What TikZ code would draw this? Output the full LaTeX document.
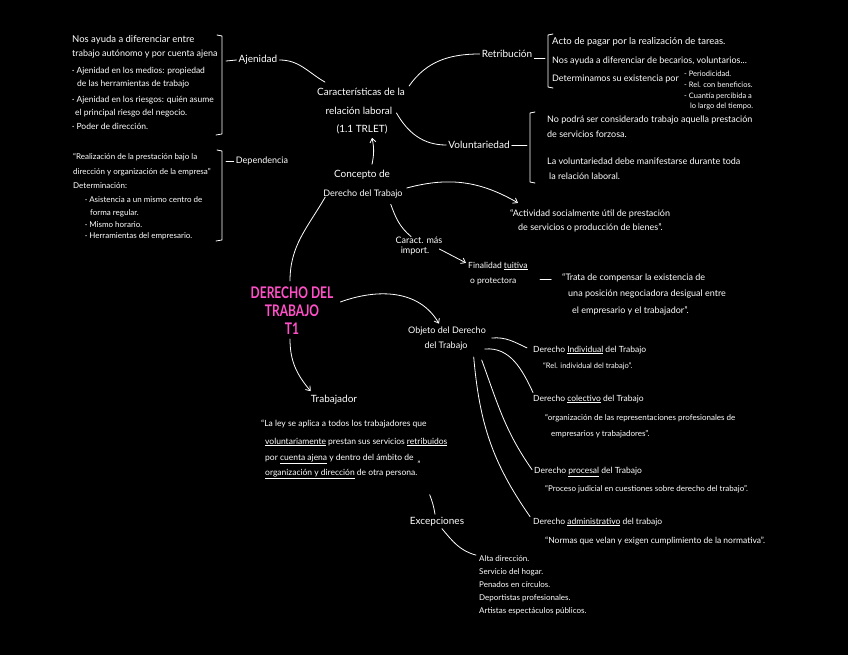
\documentclass[tikz,border=0pt]{standalone}
\usepackage{fontspec}
\setmainfont{Lato}
\usetikzlibrary{arrows.meta,calc}
\definecolor{pinkT}{RGB}{255,80,200}
\begin{document}
\begin{tikzpicture}[x=1pt,y=-1pt,
  t/.style={text=white,inner sep=0pt,anchor=base west},
  lb/.style={text=white,inner sep=2pt},
  fA/.style={font=\fontsize{10}{12}\selectfont},
  fB/.style={font=\fontsize{9.5}{11}\selectfont},
  fC/.style={font=\fontsize{9}{11}\selectfont},
  fD/.style={font=\fontsize{8.5}{10}\selectfont},
  fE/.style={font=\fontsize{8}{10}\selectfont},
  fF/.style={font=\fontsize{7.5}{9}\selectfont},
  con/.style={draw=white,line width=0.8pt,line cap=round},
  arr/.style={con,-{Straight Barb[length=4pt,width=6pt]}},
  brk/.style={draw=white,line width=0.8pt,line cap=round,line join=round}
]
\fill[black] (0,0) rectangle (848,655);
\useasboundingbox (0,0) rectangle (848,655);

% ---------- Ajenidad block ----------
\node[t,fB] (a1) at (72,43) {Nos ayuda a diferenciar entre};
\node[t,fC] (a2) at (72,57) {trabajo autónomo y por cuenta ajena};
\node[t,fD] (a3) at (72,74) {· Ajenidad en los medios: propiedad};
\node[t,fD] (a4) at (77,87) {de las herramientas de trabajo};
\node[t,fD] (a5) at (72,103) {· Ajenidad en los riesgos: quién asume};
\node[t,fD] (a6) at (75,116) {el principal riesgo del negocio.};
\node[t,fD] (a7) at (72,130) {· Poder de dirección.};
\draw[brk] (217,35) -- (222,36) -- (222,134) -- (216,135);
\node[lb,fA] (aj) at (258,60) {Ajenidad};
\draw[con] (226,61) -- (aj.west);

% ---------- Dependencia block ----------
\node[t,fE] (d1) at (73,160) {“Realización de la prestación bajo la};
\node[t,fE] (d2) at (73,175) {dirección y organización de la empresa”};
\node[t,fE] (d3) at (73,189) {Determinación:};
\node[t,fE] (d4) at (85,203) {· Asistencia a un mismo centro de};
\node[t,fE] (d5) at (90,215) {forma regular.};
\node[t,fE] (d6) at (85,227) {· Mismo horario.};
\node[t,fE] (d7) at (85,238) {· Herramientas del empresario.};
\draw[brk] (217,150) -- (222,151) -- (222,240) -- (216,241);
\node[lb,fC] (dep) at (262,161) {Dependencia};
\draw[con] (226,161) -- (dep.west);

% ---------- Caracteristicas ----------
\node[lb,fA] (car1) at (361,92) {Características de la};
\node[lb,fA] (car2) at (359,111) {relación laboral};
\node[lb,fA] (car3) at (362,129) {(1.1 TRLET)};
\node[lb,fA] (con1) at (362,175) {Concepto de};
\node[lb,fC] (con2) at (363,194) {Derecho del Trabajo};

\draw[con] (aj.east) to[out=0,in=150] ($(car1.north west)+(10,-4)$);
\node[lb,fA] (ret) at (507,54) {Retribución};
\node[lb,fA] (vol) at (479,145) {Voluntariedad};
\draw[con] ($(car1.east)+(2,-6)$) to[out=55,in=180] (ret.west);
\draw[con] ($(car2.east)+(2,2)$) to[out=-60,in=180] (vol.west);
\draw[arr] ($(con1.north)+(10,-4)$) to[bend right=12] ($(car3.south)+(10,2)$);

% ---------- Retribucion block ----------
\draw[brk] (553,34) -- (548,35) -- (548,87) -- (553,88);
\draw[con] ($(ret.east)+(0,4)$) -- (545,58);
\node[t,fB] (r1) at (552,45) {Acto de pagar por la realización de tareas.};
\node[t,fC] (r2) at (552,64) {Nos ayuda a diferenciar de becarios, voluntarios...};
\node[t,fC] (r3) at (552,82) {Determinamos su existencia por};
\node[t,fF] (s1) at (684,77) {- Periodicidad.};
\node[t,fF] (s2) at (684,88) {- Rel. con beneficios.};
\node[t,fF] (s3) at (684,99) {- Cuantía percibida a};
\node[t,fF] (s4) at (690,109) {lo largo del tiempo.};

% ---------- Voluntariedad block ----------
\draw[brk] (535,112) -- (530,113) -- (530,182) -- (535,183);
\draw[con] (vol.east) -- (527,145);
\node[t,fC] (v1) at (547,123) {No podrá ser considerado trabajo aquella prestación};
\node[t,fC] (v2) at (547,138) {de servicios forzosa.};
\node[t,fC] (v3) at (547,165) {La voluntariedad debe manifestarse durante toda};
\node[t,fC] (v4) at (549,179) {la relación laboral.};

% ---------- Actividad ----------
\node[t,fC] (ac1) at (510,216) {“Actividad socialmente útil de prestación};
\node[t,fC] (ac2) at (518,230) {de servicios o producción de bienes”.};
\draw[arr] ($(con2.east)+(2,-6)$) to[out=15,in=150] ($(ac1.north west)+(8,-6)$);

% ---------- Caract. mas import ----------
\node[lb,fC] (cm1) at (419,240) {Caract. más};
\node[lb,fC] (cm2) at (415,251) {import.};
\draw[con] ($(con2.south east)+(-14,4)$) to[out=-70,in=140] ($(cm1.north)+(-8,2)$);
\node[t,fD] (fin1) at (468,268) {Finalidad \underline{tuitiva}};
\node[t,fD] (fin2) at (470,283) {o protectora};
\draw[arr] ($(cm2.east)+(8,-2)$) -- ($(fin1.west)+(-2,-3)$);
\node[t,fC] (tr1) at (562,280) {“Trata de compensar la existencia de};
\node[t,fC] (tr2) at (568,296) {una posición negociadora desigual entre};
\node[t,fC] (tr3) at (572,313) {el empresario y el trabajador”.};
\coordinate (dashA) at (540,279);
\draw[con, line width=1pt] (dashA) -- ++(11,0);

% ---------- Title ----------
\node[text=pinkT,inner sep=2pt,align=center,font=\fontsize{16}{18}\bfseries\selectfont] (dt) at (292,311)
  {\scalebox{0.75}[1]{DERECHO DEL}\\\scalebox{0.75}[1]{TRABAJO}\\\scalebox{0.75}[1]{T1}};
\draw[con] ($(con2.west)+(4,3)$) to[out=240,in=90] ($(dt.north)+(-2,-4)$);

% ---------- Objeto ----------
\node[lb,fC] (ob1) at (447,331) {Objeto del Derecho};
\node[lb,fC] (ob2) at (446,346) {del Trabajo};
\draw[arr] ($(dt.north east)+(5,17)$) to[out=20,in=120] ($(ob1.north)+(-8,-1)$);

\node[t,fD] (di) at (533,352) {Derecho \underline{Individual} del Trabajo};
\node[t,fF] (dit) at (543,368) {“Rel. individual del trabajo”.};
\node[t,fD] (dc) at (533,401) {Derecho \underline{colectivo} del Trabajo};
\node[t,fE] (dct1) at (545,420) {“organización de las representaciones profesionales de};
\node[t,fE] (dct2) at (551,436) {empresarios y trabajadores”.};
\node[t,fD] (dp) at (534,473) {Derecho \underline{procesal} del Trabajo};
\node[t,fE] (dpt) at (545,491) {“Proceso judicial en cuestiones sobre derecho del trabajo”.};
\node[t,fD] (da) at (533,524) {Derecho \underline{administrativo} del trabajo};
\node[t,fD] (dat) at (545,543) {“Normas que velan y exigen cumplimiento de la normativa”.};

\draw[con] ($(ob2.east)+(22,-8)$) to[out=5,in=155] ($(di.west)+(-6,-2)$);
\draw[con] ($(ob2.east)+(15,3)$) to[out=5,in=115] ($(dc.north west)+(0,-2)$);
\draw[con] ($(ob2.east)+(12,14)$) to[out=-70,in=125] ($(dp.west)+(-2,-2)$);
\draw[con] ($(ob2.east)+(4,11)$) to[out=-85,in=125] ($(da.north west)+(-3,-1)$);

% ---------- Trabajador ----------
\node[lb,fA] (trab) at (334,400) {Trabajador};
\draw[arr] ($(dt.south)+(-2,2)$) to[out=-90,in=130] ($(trab.north west)+(2,-2)$);
\node[t,fD] (l1) at (261,426) {“La ley se aplica a todos los trabajadores que};
\node[t,fD] (l2) at (265,444) {\underline{voluntariamente} prestan sus servicios \underline{retribuidos}};
\node[t,fD] (l3) at (265,460) {por \underline{cuenta ajena} y dentro del ámbito de};
\node[t,fD] (l4) at (265,475) {\underline{organización y dirección} de otra persona.\raisebox{8pt}{”}};

% ---------- Excepciones ----------
\node[lb,fA] (exc) at (437,522) {Excepciones};
\draw[con] ($(l4.south east)+(9,16)$) to[bend left=6] ($(exc.north)+(-2,-1)$);
\node[t,fE] (e1) at (479,561) {Alta dirección.};
\node[t,fE] (e2) at (479,574) {Servicio del hogar.};
\node[t,fE] (e3) at (479,587) {Penados en círculos.};
\node[t,fE] (e4) at (479,600) {Deportistas profesionales.};
\node[t,fE] (e5) at (479,613) {Artistas espectáculos públicos.};
\draw[con] ($(exc.south)+(5,0)$) to[out=-50,in=165] ($(e1.west)+(-3,-3)$);
\end{tikzpicture}
\end{document}
